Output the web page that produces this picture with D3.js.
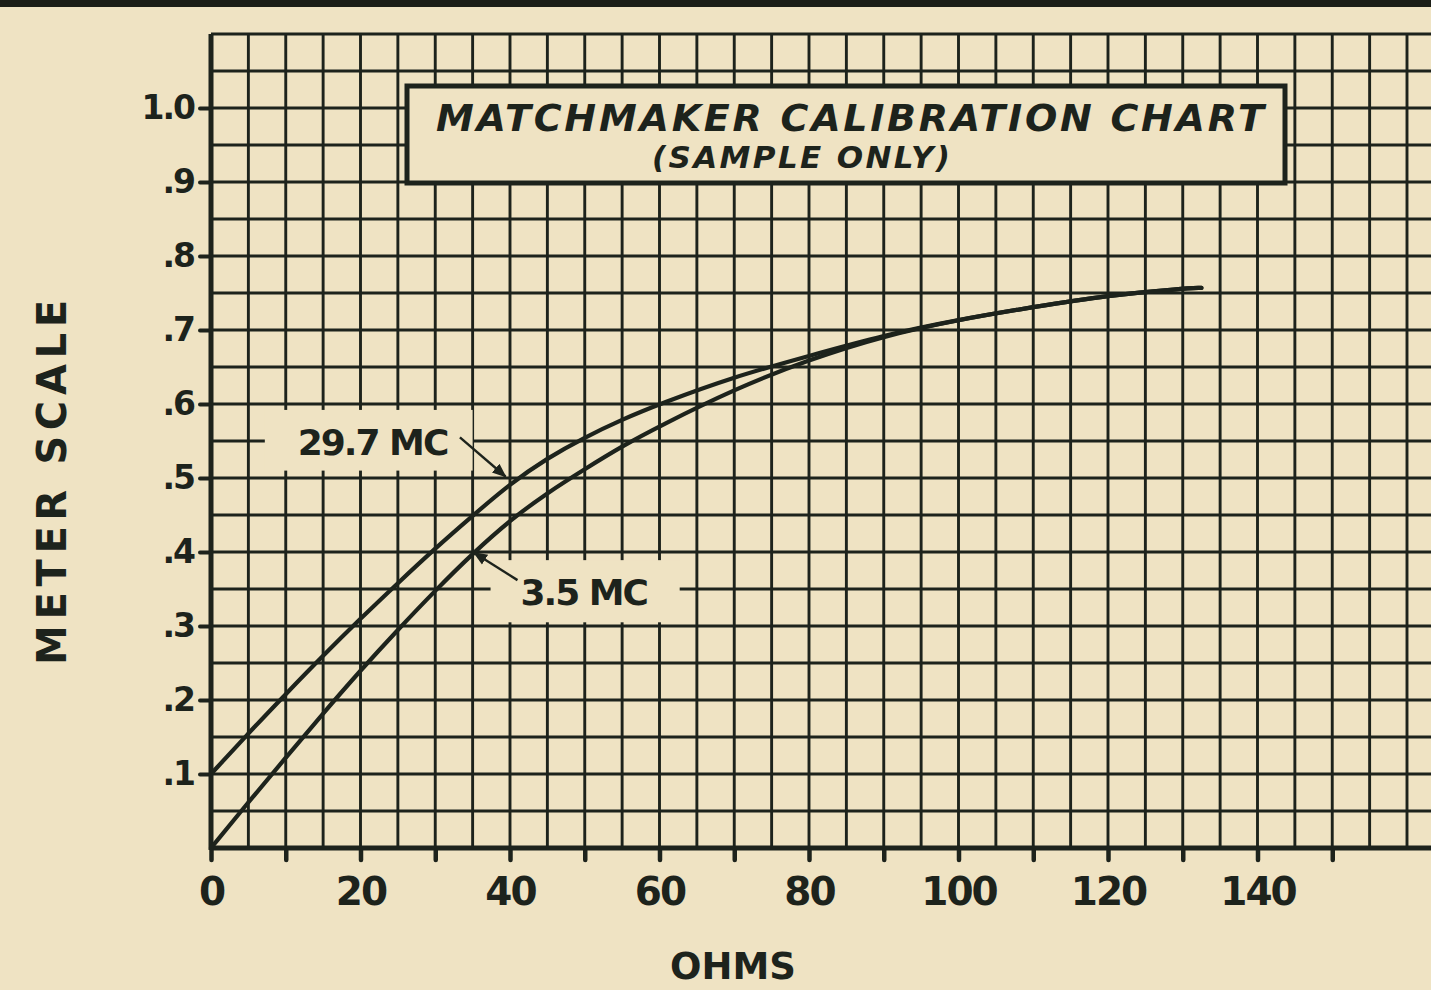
<!DOCTYPE html>
<html>
<head>
<meta charset="utf-8">
<script src="https://cdn.jsdelivr.net/npm/d3@7"></script>
<style>
  body { margin: 0; background: #efe3c3; }
  svg { display: block; }
</style>
</head>
<body>
<svg id="chart" width="1431" height="990"></svg>
<script>
// ohms readings shared by both calibration curves (they merge past ~85 ohms)
const ohms     = [0, 5, 10, 15, 20, 25, 30, 35, 40, 45, 50, 55, 60, 70, 80, 90, 100, 110, 120, 130, 132.5];
const meter297 = [0.10, 0.155, 0.208, 0.26, 0.31, 0.358, 0.405, 0.449, 0.492, 0.527, 0.555, 0.579, 0.600, 0.637, 0.665, 0.693, 0.714, 0.731, 0.747, 0.756, 0.757];
const meter35  = [0.0, 0.062, 0.122, 0.182, 0.240, 0.295, 0.348, 0.398, 0.443, 0.48, 0.512, 0.543, 0.570, 0.620, 0.660, 0.692, 0.714, 0.731, 0.747, 0.756, 0.757];

const xTicks  = [0, 10, 20, 30, 40, 50, 60, 70, 80, 90, 100, 110, 120, 130, 140, 150];
const xLabels = [0, 20, 40, 60, 80, 100, 120, 140];
const yTicks  = [0.1, 0.2, 0.3, 0.4, 0.5, 0.6, 0.7, 0.8, 0.9, 1.0];
const yLabels = [".1", ".2", ".3", ".4", ".5", ".6", ".7", ".8", ".9", "1.0"];

// curve call-outs: text anchor, leader from -> to, cut-out in the grid (all in data units)
const curveNames = ["29.7 MC", "3.5 MC"];
const nameAt     = [[11.6, 0.531], [41.4, 0.328]];
const leaderFrom = [[33.3, 0.555], [41.0, 0.362]];
const leaderTo   = [[39.4, 0.502], [35.2, 0.399]];
const cutX       = [[7.2, 35.0], [37.4, 62.7]];
const cutY       = [[0.510, 0.592], [0.305, 0.389]];

const paper = '#efe3c3';
const ink = '#1d231c';
const font = '"DejaVu Sans", Verdana, sans-serif';

const svg = d3.select('#chart');
const W = 1431, H = 990;

const x = d3.scaleLinear().domain([0, 160]).range([211, 1407]);
const y = d3.scaleLinear().domain([0, 1.1]).range([848, 34]);

svg.append('rect').attr('width', W).attr('height', H).attr('fill', paper);
// dark edge of the printed page at the top
svg.append('rect').attr('width', W).attr('height', 7).attr('fill', '#1b1e17');

// graph paper: a line every 5 ohms and every .05 of the scale
const grid = svg.append('g').attr('stroke', ink).attr('stroke-width', 2.9);
grid.selectAll('line.v')
  .data(d3.range(5, 170, 5))
  .enter().append('line')
    .attr('x1', d => x(d)).attr('x2', d => x(d))
    .attr('y1', y(0)).attr('y2', y(1.1));
grid.selectAll('line.h')
  .data(d3.range(0.05, 1.1001, 0.05))
  .enter().append('line')
    .attr('x1', x(0)).attr('x2', W + 10)
    .attr('y1', d => y(d)).attr('y2', d => y(d));

// blank patches behind the curve names
svg.append('g').selectAll('rect')
  .data(curveNames.map((n, i) => i))
  .enter().append('rect')
    .attr('x', i => x(cutX[i][0]))
    .attr('width', i => x(cutX[i][1]) - x(cutX[i][0]))
    .attr('y', i => y(cutY[i][1]))
    .attr('height', i => y(cutY[i][0]) - y(cutY[i][1]))
    .attr('fill', paper);

// axes
const gx = svg.append('g')
  .attr('transform', `translate(0,${y(0)})`)
  .call(d3.axisBottom(x).tickValues(xTicks).tickSize(12).tickPadding(17)
    .tickFormat(d => xLabels.includes(d) ? d : ''));
gx.select('.domain').remove();
gx.selectAll('line').attr('stroke', ink).attr('stroke-width', 4.5).attr('stroke-linecap', 'round');
gx.selectAll('text')
  .style('font-family', font).style('font-weight', 'bold').style('font-size', '39px')
  .attr('fill', ink).attr('letter-spacing', -2);

const gy = svg.append('g')
  .attr('transform', `translate(${x(0)},0)`)
  .call(d3.axisLeft(y).tickValues(yTicks).tickSize(11).tickPadding(6)
    .tickFormat((d, i) => yLabels[i]));
gy.select('.domain').remove();
gy.selectAll('line').attr('stroke', ink).attr('stroke-width', 4).attr('stroke-linecap', 'round');
gy.selectAll('text')
  .style('font-family', font).style('font-weight', 'bold').style('font-size', '33px')
  .attr('fill', ink).attr('letter-spacing', -2);

svg.append('line')
  .attr('x1', x(0)).attr('x2', W + 10).attr('y1', y(0)).attr('y2', y(0))
  .attr('stroke', ink).attr('stroke-width', 5);
svg.append('line')
  .attr('x1', x(0)).attr('x2', x(0)).attr('y1', y(0) + 2).attr('y2', y(1.1))
  .attr('stroke', ink).attr('stroke-width', 5);

// title box
svg.append('rect')
  .attr('x', 407).attr('y', 86).attr('width', 878).attr('height', 97)
  .attr('fill', paper).attr('stroke', ink).attr('stroke-width', 5);
svg.append('text')
  .attr('x', 436).attr('y', 131)
  .attr('textLength', 828).attr('lengthAdjust', 'spacing')
  .style('font-family', font).style('font-weight', 'bold').style('font-style', 'italic')
  .style('font-size', '38px').attr('fill', ink)
  .text('MATCHMAKER CALIBRATION CHART');
svg.append('text')
  .attr('x', 652).attr('y', 168)
  .attr('textLength', 298).attr('lengthAdjust', 'spacing')
  .style('font-family', font).style('font-weight', 'bold').style('font-style', 'italic')
  .style('font-size', '31px').attr('fill', ink)
  .text('(SAMPLE ONLY)');

// calibration curves
const line = d3.line()
  .x((d, i) => x(ohms[i]))
  .y(d => y(d))
  .curve(d3.curveBasis);
svg.append('g')
  .selectAll('path')
  .data([meter297, meter35])
  .enter().append('path')
    .attr('d', line)
    .attr('fill', 'none')
    .attr('stroke', ink)
    .attr('stroke-width', 4.2)
    .attr('stroke-linecap', 'round');

// call-outs
svg.append('defs').append('marker')
  .attr('id', 'head').attr('viewBox', '0 0 10 10')
  .attr('refX', 9).attr('refY', 5)
  .attr('markerWidth', 6).attr('markerHeight', 6)
  .attr('orient', 'auto')
  .append('path').attr('d', 'M0,1 L10,5 L0,9 Z').attr('fill', ink);

const callouts = svg.append('g');
callouts.selectAll('line')
  .data(curveNames.map((n, i) => i))
  .enter().append('line')
    .attr('x1', i => x(leaderFrom[i][0])).attr('y1', i => y(leaderFrom[i][1]))
    .attr('x2', i => x(leaderTo[i][0])).attr('y2', i => y(leaderTo[i][1]))
    .attr('stroke', ink).attr('stroke-width', 2.4)
    .attr('marker-end', 'url(#head)');
callouts.selectAll('text')
  .data(curveNames)
  .enter().append('text')
    .attr('x', (d, i) => x(nameAt[i][0]))
    .attr('y', (d, i) => y(nameAt[i][1]))
    .style('font-family', font).style('font-weight', 'bold').style('font-size', '36px')
    .attr('letter-spacing', -2)
    .attr('fill', ink)
    .text(d => d);

// axis titles
svg.append('text')
  .attr('x', 733).attr('y', 979)
  .attr('text-anchor', 'middle')
  .style('font-family', font).style('font-weight', 'bold').style('font-size', '37px')
  .attr('fill', ink)
  .text('OHMS');
svg.append('text')
  .attr('transform', 'translate(66,665) rotate(-90)')
  .attr('textLength', 365).attr('lengthAdjust', 'spacing')
  .style('font-family', font).style('font-weight', 'bold').style('font-size', '40px')
  .attr('fill', ink)
  .text('METER SCALE');
</script>
</body>
</html>
